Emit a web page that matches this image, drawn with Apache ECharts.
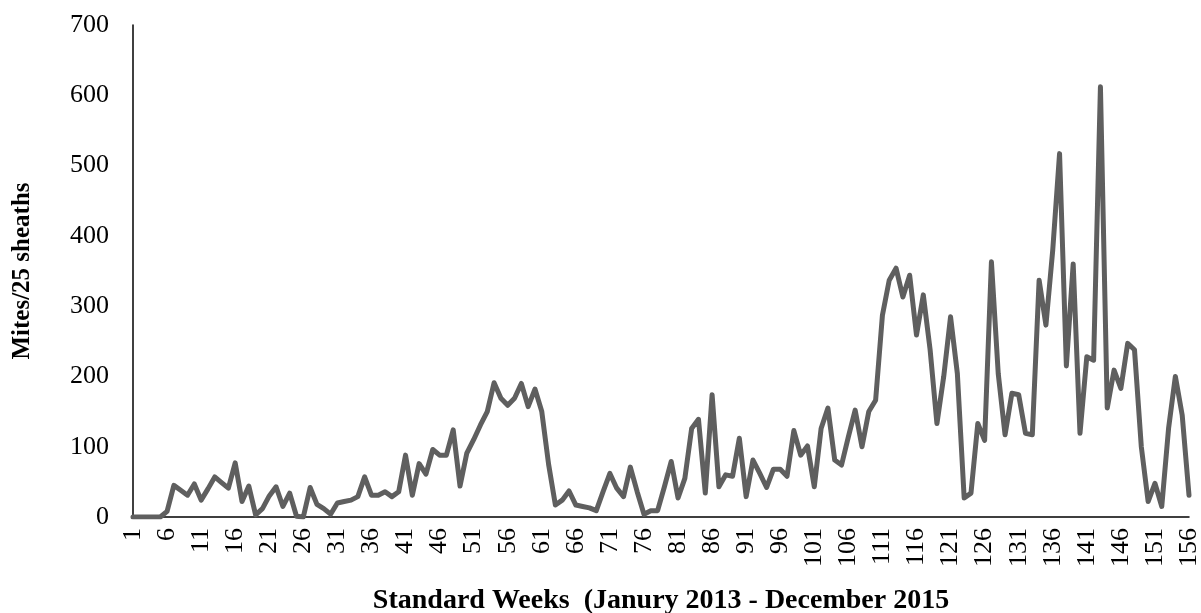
<!DOCTYPE html>
<html>
<head>
<meta charset="utf-8">
<script src="https://cdn.jsdelivr.net/npm/echarts@6/dist/echarts.min.js"></script>
<style>
  html, body { margin: 0; padding: 0; background: #fff; }
  #chart { width: 1201px; height: 613px; }
</style>
</head>
<body>
<div id="chart"></div>
<script>
// weeks 1..156
const weeks = [];
for (let i = 1; i <= 156; i++) weeks.push(String(i));

// mites per 25 sheaths
const mites = [
  0, 0, 0, 0, 0, 8, 45, 38, 31, 47,
  24, 40, 57, 49, 41, 77, 22, 44, 3, 12,
  30, 43, 15, 34, 1, 0, 42, 18, 12, 4,
  20, 22, 24, 29, 57, 31, 31, 36, 29, 36,
  88, 31, 76, 61, 96, 88, 88, 124, 44, 91,
  110, 131, 150, 191, 169, 159, 169, 190, 157, 182,
  150, 75, 17, 24, 37, 17, 15, 13, 9, 36,
  62, 41, 29, 71, 36, 4, 9, 9, 43, 79,
  27, 55, 126, 139, 34, 174, 43, 60, 58, 112,
  29, 81, 62, 42, 68, 68, 58, 123, 88, 101,
  43, 126, 155, 81, 74, 114, 152, 100, 150, 166,
  287, 337, 354, 313, 344, 259, 316, 238, 133, 200,
  285, 204, 27, 34, 133, 109, 363, 204, 117, 176,
  174, 119, 117, 337, 273, 380, 517, 215, 360, 119,
  228, 223, 612, 155, 209, 183, 247, 238, 100, 22,
  48, 15, 126, 200, 145, 31
];

const yTicks = [0, 100, 200, 300, 400, 500, 600, 700];

const chart = echarts.init(document.getElementById('chart'));
const serif = 'Liberation Serif';

chart.setOption({
  animation: false,
  backgroundColor: '#ffffff',
  grid: { left: 133, right: 12, top: 25, bottom: 96, outerBoundsMode: 'none', containLabel: false },
  xAxis: {
    type: 'category',
    data: weeks,
    boundaryGap: false,
    name: 'Standard Weeks  (Janury 2013 - December 2015',
    nameLocation: 'middle',
    nameGap: 70,
    nameTextStyle: { fontFamily: serif, fontWeight: 'bold', fontSize: 28, color: '#000' },
    axisLine: { lineStyle: { color: '#000', width: 1.5 } },
    axisTick: { show: false },
    axisLabel: {
      interval: 4,
      rotate: 90,
      margin: 11,
      fontFamily: serif,
      fontSize: 26,
      color: '#000'
    },
    splitLine: { show: false }
  },
  yAxis: {
    type: 'value',
    min: yTicks[0],
    max: yTicks[yTicks.length - 1],
    interval: 100,
    name: 'Mites/25 sheaths',
    nameLocation: 'middle',
    nameGap: 98,
    nameTextStyle: { fontFamily: serif, fontWeight: 'bold', fontSize: 25, color: '#000' },
    axisLine: { show: true, lineStyle: { color: '#000', width: 1.5 } },
    axisTick: { show: false },
    axisLabel: { margin: 24, fontFamily: serif, fontSize: 26, color: '#000' },
    splitLine: { show: false }
  },
  series: [{
    type: 'line',
    data: mites,
    symbol: 'none',
    lineStyle: { color: '#5f5f5f', width: 5, join: 'round', cap: 'round' }
  }]
});
</script>
</body>
</html>
